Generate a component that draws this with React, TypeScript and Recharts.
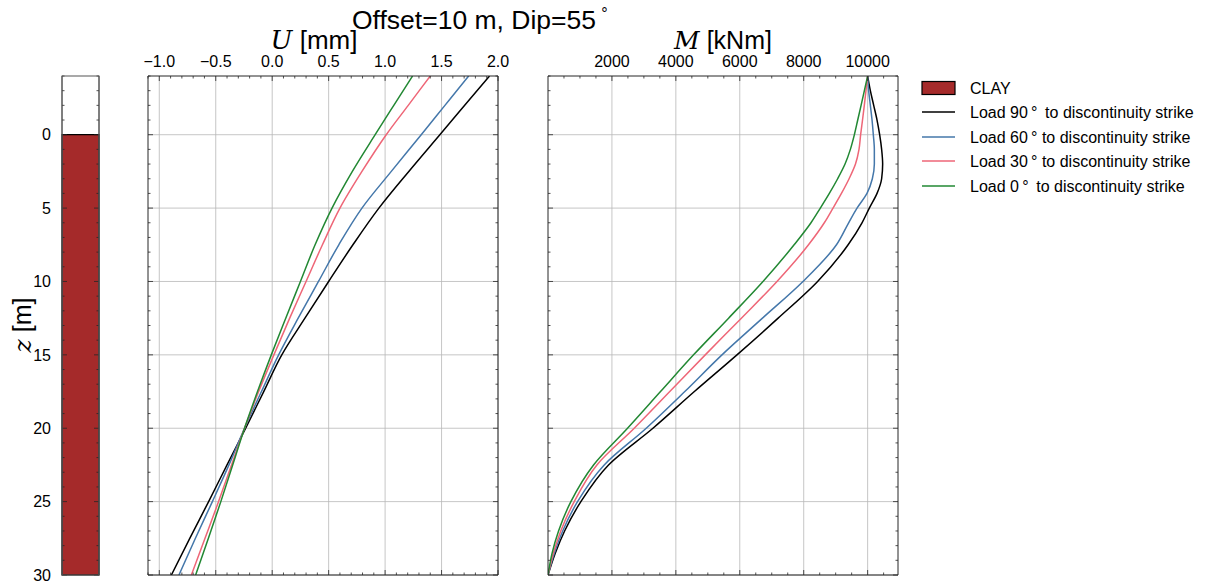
import React from 'react';
import { LineChart, Line, XAxis, YAxis, CartesianGrid, ReferenceArea } from 'recharts';

// ---------- data ----------
const zDomain: [number, number] = [-4, 30];
const zMajorTicks = [0, 5, 10, 15, 20, 25, 30];
const zTickLabels = ['0', '5', '10', '15', '20', '25', '30'];

const uDomain: [number, number] = [-1.1, 2.0];
const uMajorTicks = [-1.0, -0.5, 0.0, 0.5, 1.0, 1.5, 2.0];
const uTickLabels = ['\u22121.0', '\u22120.5', '0.0', '0.5', '1.0', '1.5', '2.0'];

const mDomain: [number, number] = [0, 10950];
const mMajorTicks = [2000, 4000, 6000, 8000, 10000];
const mTickLabels = ['2000', '4000', '6000', '8000', '10000'];

const layerNames = ['CLAY'];
const layerTops = [0];
const layerBottoms = [30];
const layerColors = ['#a52a2a'];

const seriesNames = [
  'Load 90\u2009\u00b0\u2009 to discontinuity strike',
  'Load 60\u2009\u00b0 to discontinuity strike',
  'Load 30\u2009\u00b0 to discontinuity strike',
  'Load 0\u2009\u00b0\u2009 to discontinuity strike',
];
const seriesColors = ['#000000', '#4477AA', '#EE6677', '#228833'];

// displacement U [mm] vs depth
const uDepths = [-4, -2, 0, 2.5, 5, 7.5, 10, 12.5, 15, 17.5, 20, 22.5, 25, 27.5, 30];
const u90 = [1.925, 1.705, 1.485, 1.21, 0.945, 0.715, 0.50, 0.29, 0.085, -0.075, -0.235, -0.40, -0.563, -0.73, -0.893];
const u60 = [1.74, 1.53, 1.32, 1.055, 0.795, 0.59, 0.41, 0.23, 0.057, -0.095, -0.245, -0.383, -0.53, -0.68, -0.826];
const u30 = [1.40, 1.205, 1.01, 0.795, 0.60, 0.445, 0.30, 0.155, 0.015, -0.12, -0.245, -0.36, -0.475, -0.595, -0.716];
const u0 = [1.243, 1.077, 0.912, 0.71, 0.53, 0.38, 0.25, 0.12, -0.008, -0.13, -0.245, -0.35, -0.455, -0.565, -0.678];

// moment M [kNm] vs depth
const mDepths = [-4, -3, -2, -1, 0, 1, 2, 3, 4, 5, 6, 7.5, 10, 12.5, 15, 17.5, 20, 22.5, 25, 27, 28.5, 30];
const m90 = [10000, 10085, 10190, 10294, 10376, 10438, 10470, 10438, 10294, 10053, 9824, 9390, 8435, 7200, 5912, 4580, 3283, 1894, 1029, 520, 230, 0];
const m60 = [10000, 10032, 10085, 10138, 10178, 10210, 10210, 10147, 9980, 9668, 9406, 9025, 7977, 6710, 5443, 4280, 3073, 1759, 924, 460, 200, 0];
const m30 = [10000, 9948, 9896, 9840, 9781, 9730, 9620, 9420, 9180, 8917, 8645, 8150, 7164, 6050, 4920, 3810, 2698, 1530, 820, 400, 170, 0];
const m0 = [10000, 9898, 9795, 9690, 9585, 9460, 9293, 9062, 8802, 8520, 8228, 7700, 6726, 5650, 4554, 3520, 2488, 1425, 716, 330, 130, 0];

// ---------- layout ----------
const W = 1205;
const H = 583;
const PLOT_TOP = 76;
const PLOT_BOTTOM = 575;
const FONT = '"Liberation Sans", Arial, Helvetica, sans-serif';
const SERIF = '"DejaVu Serif", "Liberation Serif", serif';
const AXIS_COLOR = '#262626';
const GRID_COLOR = '#b8b8b8';
const TICK_FONT = 16;
const KEYS = ['s90', 's60', 's30', 's0'];

const uRows = uDepths.map((z, i) => ({ z, s90: u90[i], s60: u60[i], s30: u30[i], s0: u0[i] }));
const mRows = mDepths.map((z, i) => ({ z, s90: m90[i], s60: m60[i], s30: m30[i], s0: m0[i] }));
const soilRows = layerTops.map((t, i) => ({ z: t, b: layerBottoms[i] }));

const steps = (a: number, b: number, s: number) => {
  const out: number[] = [];
  for (let k = 0; a + k * s <= b + 1e-9; k++) out.push(Math.round((a + k * s) * 1e6) / 1e6);
  return out;
};
const zAllTicks = steps(-4, 30, 1);
const uAllTicks = steps(-1.1, 2.0, 0.1);
const mAllTicks = steps(500, 10500, 500);

type Side = 'top' | 'bottom' | 'left' | 'right';

function tickRenderer(side: Side, majors: number[], labels: string[] | null) {
  return (props: any) => {
    const { x, y, payload } = props;
    const v = Number(payload.value);
    const idx = majors.findIndex((m) => Math.abs(m - v) < 1e-6);
    const len = idx >= 0 ? 5 : 2.5;
    let x2 = x;
    let y2 = y;
    if (side === 'top') y2 = y + len;
    else if (side === 'bottom') y2 = y - len;
    else if (side === 'left') x2 = x + len;
    else x2 = x - len;
    let label: any = null;
    if (labels && idx >= 0) {
      if (side === 'top') {
        label = (
          <text x={x} y={y - 9} textAnchor="middle" fontSize={TICK_FONT} fontFamily={FONT} fill="#000">
            {labels[idx]}
          </text>
        );
      } else if (side === 'left') {
        label = (
          <text x={x - 11} y={y} dy="0.36em" textAnchor="end" fontSize={TICK_FONT} fontFamily={FONT} fill="#000">
            {labels[idx]}
          </text>
        );
      }
    }
    return (
      <g>
        <line x1={x} y1={y} x2={x2} y2={y2} stroke={AXIS_COLOR} strokeWidth={0.8} />
        {label}
      </g>
    );
  };
}

const axisLine = { stroke: AXIS_COLOR, strokeWidth: 1 };

function ProfilePanel(props: {
  rows: any[];
  left: number;
  right: number;
  domain: [number, number];
  allTicks: number[];
  majors: number[];
  labels: string[];
}) {
  const { rows, left, right, domain, allTicks, majors, labels } = props;
  return (
    <div style={{ position: 'absolute', left: 0, top: 0 }}>
      <LineChart
        layout="vertical"
        width={W}
        height={H}
        data={rows}
        margin={{ top: PLOT_TOP - 1, bottom: H - PLOT_BOTTOM - 1, left: left - 1, right: W - right - 1 }}
      >
        <CartesianGrid
          xAxisId="top"
          yAxisId="left"
          stroke={GRID_COLOR}
          strokeWidth={0.8}
          verticalValues={majors}
          horizontalValues={zMajorTicks}
        />
        <XAxis
          xAxisId="top"
          orientation="top"
          type="number"
          domain={domain}
          allowDataOverflow
          ticks={allTicks}
          interval={0}
          height={1}
          tickSize={0}
          tickMargin={0}
          tickLine={false}
          axisLine={axisLine}
          tick={tickRenderer('top', majors, labels)}
        />
        <XAxis
          xAxisId="bottom"
          orientation="bottom"
          type="number"
          domain={domain}
          allowDataOverflow
          ticks={allTicks}
          interval={0}
          height={1}
          tickSize={0}
          tickMargin={0}
          tickLine={false}
          axisLine={axisLine}
          tick={tickRenderer('bottom', majors, null)}
        />
        <YAxis
          yAxisId="left"
          orientation="left"
          type="number"
          dataKey="z"
          domain={zDomain}
          allowDataOverflow
          ticks={zAllTicks}
          interval={0}
          width={1}
          tickSize={0}
          tickMargin={0}
          tickLine={false}
          axisLine={axisLine}
          tick={tickRenderer('left', zMajorTicks, null)}
        />
        <YAxis
          yAxisId="right"
          orientation="right"
          type="number"
          dataKey="z"
          domain={zDomain}
          allowDataOverflow
          ticks={zAllTicks}
          interval={0}
          width={1}
          tickSize={0}
          tickMargin={0}
          tickLine={false}
          axisLine={axisLine}
          tick={tickRenderer('right', zMajorTicks, null)}
        />
        {KEYS.map((k, i) => (
          <Line
            key={k}
            xAxisId="top"
            yAxisId="left"
            dataKey={k}
            type="monotoneY"
            stroke={seriesColors[i]}
            strokeWidth={1.5}
            dot={false}
            activeDot={false}
            isAnimationActive={false}
          />
        ))}
      </LineChart>
    </div>
  );
}

function SoilPanel() {
  return (
    <div style={{ position: 'absolute', left: 0, top: 0 }}>
      <LineChart
        layout="vertical"
        width={W}
        height={H}
        data={soilRows}
        margin={{ top: PLOT_TOP, bottom: H - PLOT_BOTTOM, left: 61, right: W - 99 - 1 }}
      >
        <XAxis xAxisId="x" type="number" domain={[0, 1]} allowDataOverflow hide height={0} />
        {layerNames.map((n, i) => (
          <ReferenceArea
            key={n}
            xAxisId="x"
            yAxisId="left"
            x1={0}
            x2={1}
            y1={layerTops[i]}
            y2={layerBottoms[i]}
            fill={layerColors[i]}
            fillOpacity={1}
            stroke="#000"
            strokeWidth={1.2}
            ifOverflow="visible"
          />
        ))}
        <YAxis
          yAxisId="left"
          orientation="left"
          type="number"
          dataKey="z"
          domain={zDomain}
          allowDataOverflow
          ticks={zAllTicks}
          interval={0}
          width={1}
          tickSize={0}
          tickMargin={0}
          tickLine={false}
          axisLine={{ stroke: '#555', strokeWidth: 1 }}
          tick={tickRenderer('left', zMajorTicks, zTickLabels)}
        />
        <YAxis
          yAxisId="right"
          orientation="right"
          type="number"
          dataKey="z"
          domain={zDomain}
          allowDataOverflow
          ticks={zAllTicks}
          interval={0}
          width={1}
          tickSize={0}
          tickMargin={0}
          tickLine={false}
          axisLine={{ stroke: '#555', strokeWidth: 1 }}
          tick={tickRenderer('right', zMajorTicks, null)}
        />
      </LineChart>
      <svg width={W} height={H} style={{ position: 'absolute', left: 0, top: 0, pointerEvents: 'none' }}>
        <rect x={62} y={PLOT_TOP} width={37} height={PLOT_BOTTOM - PLOT_TOP} fill="none" stroke="#555" strokeWidth={1} />
      </svg>
    </div>
  );
}

function Annotations() {
  const legendX = 922;
  const rowY = [88, 112, 137, 161, 186];
  return (
    <svg width={W} height={H} style={{ position: 'absolute', left: 0, top: 0, pointerEvents: 'none' }}>
      <text x={352} y={29} fontSize={26.5} fontFamily={FONT} fill="#000">
        Offset=10 m, Dip=55{'\u2009'}
        <tspan fontSize={16} dy={-10}>{'\u00b0'}</tspan>
      </text>
      <text x={314} y={49} textAnchor="middle" fontSize={26} fontFamily={FONT} fill="#000">
        <tspan fontFamily={SERIF} fontStyle="italic">U</tspan>
        <tspan> [mm]</tspan>
      </text>
      <text x={723} y={49} textAnchor="middle" fontSize={25} fontFamily={FONT} fill="#000">
        <tspan fontFamily={SERIF} fontStyle="italic">M</tspan>
        <tspan> [kNm]</tspan>
      </text>
      <text
        x={22}
        y={325}
        textAnchor="middle"
        dominantBaseline="central"
        fontSize={25}
        fontFamily={FONT}
        fill="#000"
        transform="rotate(-90, 22, 325)"
      >
        <tspan fontFamily={SERIF} fontStyle="italic">z</tspan>
        <tspan> [m]</tspan>
      </text>
      {layerNames.map((n, i) => (
        <g key={n}>
          <rect x={legendX} y={rowY[0] - 6.5} width={33} height={13} fill={layerColors[i]} stroke="#000" strokeWidth={1.2} />
          <text x={970} y={rowY[0]} dy="0.36em" fontSize={16} fontFamily={FONT} fill="#000">
            {n}
          </text>
        </g>
      ))}
      {seriesNames.map((n, i) => (
        <g key={n}>
          <line x1={legendX} x2={legendX + 33} y1={rowY[i + 1]} y2={rowY[i + 1]} stroke={seriesColors[i]} strokeWidth={1.5} />
          <text x={970} y={rowY[i + 1]} dy="0.36em" fontSize={16} fontFamily={FONT} fill="#000">
            {n}
          </text>
        </g>
      ))}
    </svg>
  );
}

export default function App() {
  return (
    <div style={{ position: 'fixed', left: 0, top: 0, width: W, height: H, background: '#fff', overflow: 'hidden' }}>
      <Annotations />
      <SoilPanel />
      <ProfilePanel
        rows={uRows}
        left={148}
        right={498}
        domain={uDomain}
        allTicks={uAllTicks}
        majors={uMajorTicks}
        labels={uTickLabels}
      />
      <ProfilePanel
        rows={mRows}
        left={548}
        right={898}
        domain={mDomain}
        allTicks={mAllTicks}
        majors={mMajorTicks}
        labels={mTickLabels}
      />
    </div>
  );
}
